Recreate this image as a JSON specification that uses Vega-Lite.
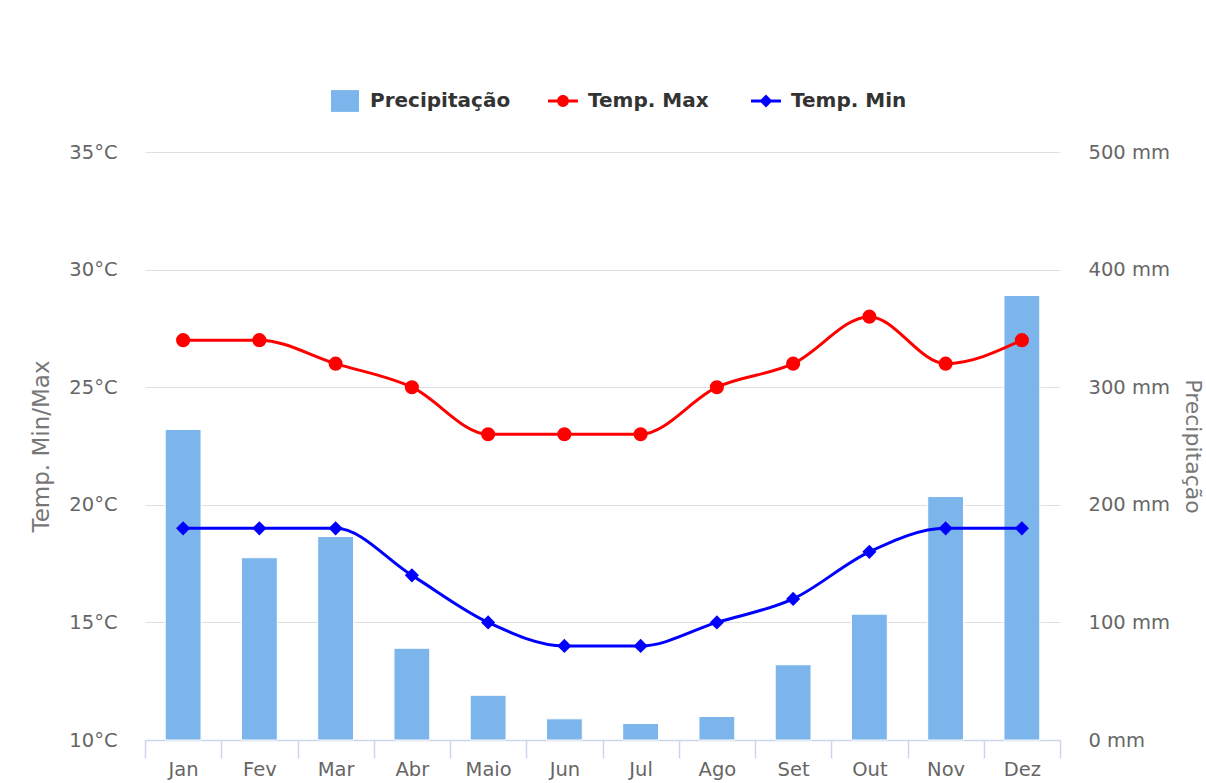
{
  "$schema": "https://vega.github.io/schema/vega-lite/v6.json",
  "width": 915,
  "height": 588,
  "autosize": {"type": "none"},
  "padding": {"left": 145, "top": 152, "right": 146, "bottom": 43},
  "background": "white",
  "config": {
    "view": {"stroke": null},
    "font": "DejaVu Sans",
    "legend": {
      "title": null,
      "orient": "none",
      "legendY": -65,
      "direction": "horizontal",
      "labelFont": "DejaVu Sans",
      "labelFontSize": 20,
      "labelFontWeight": "bold",
      "labelColor": "#333333",
      "symbolSize": 784,
      "symbolStrokeWidth": 0,
      "symbolOpacity": 1,
      "labelOffset": 11
    }
  },
  "data": {
    "values": [
      {"mes": "Jan", "precip": 264, "tmax": 27, "tmin": 19},
      {"mes": "Fev", "precip": 155, "tmax": 27, "tmin": 19},
      {"mes": "Mar", "precip": 173, "tmax": 26, "tmin": 19},
      {"mes": "Abr", "precip": 78, "tmax": 25, "tmin": 17},
      {"mes": "Maio", "precip": 38, "tmax": 23, "tmin": 15},
      {"mes": "Jun", "precip": 18, "tmax": 23, "tmin": 14},
      {"mes": "Jul", "precip": 14, "tmax": 23, "tmin": 14},
      {"mes": "Ago", "precip": 20, "tmax": 25, "tmin": 15},
      {"mes": "Set", "precip": 64, "tmax": 26, "tmin": 16},
      {"mes": "Out", "precip": 107, "tmax": 28, "tmin": 18},
      {"mes": "Nov", "precip": 207, "tmax": 26, "tmin": 19},
      {"mes": "Dez", "precip": 378, "tmax": 27, "tmin": 19}
    ]
  },
  "encoding": {
    "x": {
      "field": "mes",
      "type": "nominal",
      "sort": null,
      "scale": {"paddingInner": 0, "paddingOuter": 0},
      "axis": {
        "title": null,
        "labelAngle": 0,
        "tickBand": "extent",
        "domainColor": "#ccd6eb",
        "tickColor": "#ccd6eb",
        "domainWidth": 1.5,
        "tickWidth": 1.5,
        "tickSize": 18,
        "labelPadding": 2,
        "labelFont": "DejaVu Sans",
        "labelFontSize": 19.5,
        "labelColor": "#666666",
        "grid": false
      }
    }
  },
  "layer": [
    {
      "mark": {"type": "bar", "width": {"band": 0.47}, "stroke": "white", "strokeWidth": 1},
      "encoding": {
        "y": {
          "field": "precip",
          "type": "quantitative",
          "scale": {"domain": [0, 500], "nice": false, "zero": true},
          "axis": {
            "orient": "right",
            "title": "Precipitação",
            "values": [0, 100, 200, 300, 400, 500],
            "labelExpr": "datum.value + ' mm'",
            "grid": false,
            "domain": false,
            "ticks": false,
            "labelPadding": 28,
            "labelFont": "DejaVu Sans",
            "labelFontSize": 19.5,
            "labelColor": "#666666",
            "titleFont": "DejaVu Sans",
            "titleFontSize": 22,
            "titleFontWeight": "normal",
            "titleColor": "#777777",
            "titlePadding": 11
          }
        },
        "color": {
          "datum": "Precipitação",
          "type": "nominal",
          "scale": {"domain": ["Precipitação"], "range": ["#7cb5ec"]},
          "legend": {
            "legendX": 186,
            "symbolType": "M-1,-0.78H1V0.78H-1Z"
          }
        }
      }
    },
    {
      "layer": [
        {
          "mark": {"type": "line", "interpolate": "monotone", "strokeWidth": 3, "color": "#ff0000"},
          "encoding": {
            "y": {
              "field": "tmax",
              "type": "quantitative",
              "scale": {"domain": [10, 35], "nice": false, "zero": false},
              "axis": {
                "orient": "left",
                "title": "Temp. Min/Max",
                "values": [10, 15, 20, 25, 30, 35],
                "labelExpr": "datum.value + '°C'",
                "grid": true,
                "gridColor": "#e0e0e0",
                "gridWidth": 1.2,
                "domain": false,
                "ticks": false,
                "labelPadding": 28,
                "labelFont": "DejaVu Sans",
                "labelFontSize": 19.5,
                "labelColor": "#666666",
                "titleFont": "DejaVu Sans",
                "titleFontSize": 23,
                "titleFontWeight": "normal",
                "titleColor": "#777777",
                "titlePadding": 15
              }
            }
          }
        },
        {
          "mark": {"type": "point", "filled": true, "shape": "circle", "size": 200, "opacity": 1},
          "encoding": {
            "y": {"field": "tmax", "type": "quantitative"},
            "fill": {
              "datum": "Temp. Max",
              "type": "nominal",
              "scale": {"domain": ["Temp. Max"], "range": ["#ff0000"]},
              "legend": {
                "legendX": 404,
                "symbolType": "M-1.07,-0.1L-0.3,-0.1L-0.3,0.1L-1.07,0.1Z M0.3,-0.1L1.07,-0.1L1.07,0.1L0.3,0.1Z M-0.42,0A0.42,0.42 0 1,1 0.42,0A0.42,0.42 0 1,1 -0.42,0Z"
              }
            }
          }
        },
        {
          "mark": {"type": "line", "interpolate": "monotone", "strokeWidth": 3, "color": "#0000ff"},
          "encoding": {
            "y": {"field": "tmin", "type": "quantitative"}
          }
        },
        {
          "mark": {"type": "point", "filled": true, "shape": "diamond", "size": 200, "color": "#0000ff"},
          "encoding": {
            "y": {"field": "tmin", "type": "quantitative"},
            "opacity": {
              "datum": "Temp. Min",
              "type": "ordinal",
              "scale": {"domain": ["Temp. Min"], "range": [1]},
              "legend": {
                "legendX": 607,
                "symbolFillColor": "#0000ff",
                "symbolType": "M-1.07,-0.1L-0.3,-0.1L-0.3,0.1L-1.07,0.1Z M0.3,-0.1L1.07,-0.1L1.07,0.1L0.3,0.1Z M0,-0.46L0.46,0L0,0.46L-0.46,0Z"
              }
            }
          }
        }
      ]
    }
  ],
  "resolve": {"scale": {"y": "independent"}}
}
